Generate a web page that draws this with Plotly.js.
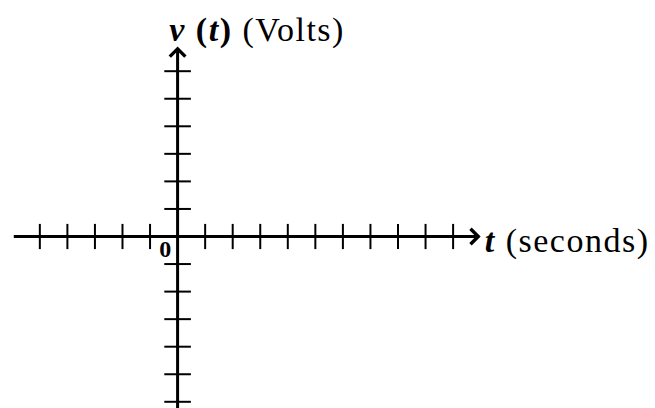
<!DOCTYPE html>
<html>
<head>
<meta charset="utf-8">
<script src="https://cdn.plot.ly/plotly-3.0.1.min.js"></script>
<style>
  html, body { margin: 0; padding: 0; background: #fff; }
  #chart { width: 655px; height: 408px; }
  /* slightly looser lettering for the axis labels */
  #chart .annotation-text { letter-spacing: 1.5px; }
</style>
</head>
<body>
<div id="chart"></div>
<script>
// Tick positions along each axis (one unit per tick spacing)
const tTicks = [-5, -4, -3, -2, -1, 1, 2, 3, 4, 5, 6, 7, 8, 9, 10];
const vTicks = [-6, -5, -4, -3, -2, -1, 1, 2, 3, 4, 5, 6];
// Where each axis line starts and where its arrow points
const tAxisSpan = [-6, 11];
const vAxisSpan = [-6.5, 6.9];
// Axis labels
const tLabel = '<b><i>t</i></b> (seconds)';
const vLabel = '<b><i>v</i></b> <b>(<i>t</i>)</b> (Volts)';
const originLabel = '<b>0</b>';

const serif = 'Liberation Serif, Times New Roman, serif';

const traces = [
  {
    x: tTicks,
    y: tTicks.map(() => 0),
    type: 'scatter',
    mode: 'markers',
    marker: { symbol: 'line-ns', size: 18, line: { width: 2, color: '#000' } },
    hoverinfo: 'skip',
    cliponaxis: false
  },
  {
    x: vTicks.map(() => 0),
    y: vTicks,
    type: 'scatter',
    mode: 'markers',
    marker: { symbol: 'line-ew', size: 19, line: { width: 2, color: '#000' } },
    hoverinfo: 'skip',
    cliponaxis: false
  }
];

const hiddenAxis = {
  showgrid: false, zeroline: false, showline: false,
  showticklabels: false, ticks: '', fixedrange: true
};

const layout = {
  width: 655,
  height: 408,
  margin: { l: 0, r: 0, t: 0, b: 0 },
  paper_bgcolor: '#fff',
  plot_bgcolor: '#fff',
  showlegend: false,
  xaxis: Object.assign({ range: [-6.446, 17.328] }, hiddenAxis),
  yaxis: Object.assign({ range: [-6.225, 8.584] }, hiddenAxis),
  annotations: [
    {
      // horizontal (time) axis with arrow
      x: tAxisSpan[1], y: 0, ax: tAxisSpan[0], ay: 0,
      xref: 'x', yref: 'y', axref: 'x', ayref: 'y',
      text: '', showarrow: true, arrowhead: 4, arrowsize: 1,
      arrowwidth: 3, arrowcolor: '#000', standoff: 0, startstandoff: 0
    },
    {
      // vertical (voltage) axis with arrow
      x: 0, y: vAxisSpan[1], ax: 0, ay: vAxisSpan[0],
      xref: 'x', yref: 'y', axref: 'x', ayref: 'y',
      text: '', showarrow: true, arrowhead: 4, arrowsize: 1,
      arrowwidth: 3, arrowcolor: '#000', standoff: 0, startstandoff: 0
    },
    {
      x: tAxisSpan[1], y: 0, xref: 'x', yref: 'y',
      xanchor: 'left', yanchor: 'middle', xshift: 10, yshift: -4,
      text: tLabel, showarrow: false,
      font: { family: serif, size: 34, color: '#000' }
    },
    {
      x: 0, y: vAxisSpan[1], xref: 'x', yref: 'y',
      xanchor: 'left', yanchor: 'bottom', xshift: -1, yshift: -5,
      text: vLabel, showarrow: false,
      font: { family: serif, size: 34, color: '#000' }
    },
    {
      x: 0, y: 0, xref: 'x', yref: 'y',
      xanchor: 'right', yanchor: 'top', xshift: -4, yshift: 3,
      text: originLabel, showarrow: false,
      font: { family: serif, size: 24, color: '#000' }
    }
  ]
};

Plotly.newPlot('chart', traces, layout, { staticPlot: true, displayModeBar: false });
</script>
</body>
</html>
